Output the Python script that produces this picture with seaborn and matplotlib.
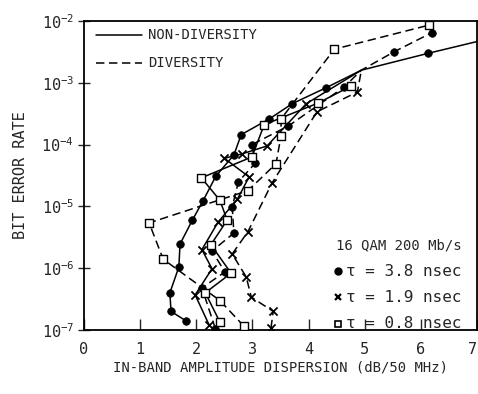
import matplotlib
matplotlib.use("Agg")
import matplotlib.pyplot as plt
import seaborn as sns
import pandas as pd

# Measured signature points: in-band amplitude dispersion (dB/50 MHz) vs. BER
# tau = 3.8 nsec
nd38_x = [1.82, 1.55, 1.53, 1.69, 1.71, 1.93, 2.12, 2.35, 2.67, 2.80, 3.30, 3.71, 4.31, 6.13]
nd38_y = [1.4e-7, 2.0e-7, 4.0e-7, 1.05e-6, 2.45e-6, 6.0e-6, 1.23e-5, 3.1e-5, 6.8e-5,
          1.45e-4, 2.6e-4, 4.6e-4, 8.3e-4, 3.0e-3]
dv38_x = [2.34, 2.10, 2.51, 2.28, 2.67, 2.64, 2.75, 3.05, 2.99, 3.64, 4.63, 5.53, 6.20]
dv38_y = [1.05e-7, 4.8e-7, 8.7e-7, 1.9e-6, 3.7e-6, 9.8e-6, 2.5e-5, 5.0e-5, 1.0e-4,
          2.0e-4, 8.5e-4, 3.2e-3, 6.5e-3]
# tau = 1.9 nsec
nd19_x = [2.23, 1.98, 2.28, 2.10, 2.39, 2.73, 2.94, 2.50, 2.82, 3.26, 3.96]
nd19_y = [1.2e-7, 3.7e-7, 9.8e-7, 2.0e-6, 5.6e-6, 1.3e-5, 3.0e-5, 6.0e-5, 7.1e-5,
          9.5e-5, 4.6e-4]
dv19_x = [3.33, 3.37, 2.98, 2.89, 2.64, 2.92, 3.35, 4.15, 4.87]
dv19_y = [1.07e-7, 2.0e-7, 3.4e-7, 7.2e-7, 1.7e-6, 3.9e-6, 2.4e-5, 3.4e-4, 7.1e-4]
# tau = 0.8 nsec
nd08_x = [2.42, 2.16, 2.62, 2.26, 2.55, 2.42, 2.09, 2.99, 3.21, 4.17, 4.76]
nd08_y = [1.35e-7, 4.0e-7, 8.3e-7, 2.4e-6, 6.0e-6, 1.26e-5, 2.9e-5, 6.3e-5, 2.1e-4,
          4.7e-4, 8.9e-4]
dv08_x = [2.85, 2.42, 1.41, 1.16, 2.92, 3.42, 3.51, 3.51, 4.46, 6.15]
dv08_y = [1.15e-7, 3.0e-7, 1.4e-6, 5.4e-6, 1.8e-5, 4.9e-5, 1.4e-4, 2.6e-4, 3.5e-3, 8.6e-3]

# Common break point where several curves meet, and the run-out of the
# non-diversity 3.8 nsec curve at the right edge
junction_x, junction_y = 4.94, 1.6e-3
runout_x, runout_y = 7.0, 4.65e-3

x_ticks = [0, 1, 2, 3, 4, 5, 6, 7]
y_ticks = [1e-7, 1e-6, 1e-5, 1e-4, 1e-3, 1e-2]
y_tick_labels = ["10$^{-7}$", "10$^{-6}$", "10$^{-5}$", "10$^{-4}$", "10$^{-3}$", "10$^{-2}$"]
legend_labels = ["NON-DIVERSITY", "DIVERSITY"]
key_title = "16 QAM 200 Mb/s"
key_labels = ["τ = 3.8 nsec", "τ = 1.9 nsec", "τ = 0.8 nsec"]


def with_junction(xs, ys):
    """Insert the shared break point before the first point beyond it."""
    idx = next((i for i, v in enumerate(xs) if v > junction_x), len(xs))
    return (xs[:idx] + [junction_x] + xs[idx:], ys[:idx] + [junction_y] + ys[idx:])


sns.set_style("ticks")
plt.rcParams["font.family"] = ["DejaVu Sans Mono", "DejaVu Sans"]
plt.rcParams["mathtext.default"] = "regular"

fig = plt.figure(figsize=(4.78, 3.94), dpi=100)
ax = fig.add_axes([84 / 478, 1 - 330 / 394, (477 - 84) / 478, (330 - 21) / 394])

SOLID = "-"
DASHED = (0, (5.5, 3))

series = [
    (nd38_x, nd38_y, SOLID, "circle", True),
    (dv38_x, dv38_y, DASHED, "circle", True),
    (nd19_x, nd19_y, SOLID, "cross", True),
    (dv19_x, dv19_y, DASHED, "cross", True),
    (nd08_x, nd08_y, SOLID, "square", False),
    (dv08_x, dv08_y, DASHED, "square", False),
]

for i, (xs, ys, ls, kind, joins) in enumerate(series):
    lx, ly = (with_junction(xs, ys) if joins else (xs, ys))
    if i == 0:
        lx, ly = lx + [runout_x], ly + [runout_y]
    df = pd.DataFrame({"x": lx, "y": ly})
    sns.lineplot(data=df, x="x", y="y", ax=ax, sort=False, estimator=None,
                 color="black", linewidth=1.1, linestyle=ls, zorder=2)
    pts = pd.DataFrame({"x": xs, "y": ys})
    if kind == "circle":
        sns.scatterplot(data=pts, x="x", y="y", ax=ax, marker="o", s=30,
                        color="black", edgecolor="black", linewidth=0.5, zorder=3)
    elif kind == "cross":
        sns.scatterplot(data=pts, x="x", y="y", ax=ax, marker="x", s=34,
                        color="black", linewidth=1.3, zorder=3)
    else:
        sns.scatterplot(data=pts, x="x", y="y", ax=ax, marker="s", s=26,
                        facecolor="white", edgecolor="black", linewidth=1.0, zorder=3)

ax.set_yscale("log")
ax.set_xlim(0, 7)
ax.set_ylim(1e-7, 1e-2)
ax.set_xticks(x_ticks)
ax.set_xticklabels([str(t) for t in x_ticks])
ax.get_xticklabels()[-1].set_horizontalalignment("right")
ax.set_yticks(y_ticks)
ax.set_yticklabels(y_tick_labels)
ax.yaxis.set_minor_locator(matplotlib.ticker.NullLocator())
ax.tick_params(axis="x", direction="in", length=8, width=1.0, pad=9, labelsize=11)
ax.tick_params(axis="y", direction="inout", length=8, width=1.0, pad=3, labelsize=11)
for sp in ax.spines.values():
    sp.set_visible(True)
    sp.set_linewidth(1.3)
    sp.set_color("black")

ax.set_xlabel("IN-BAND AMPLITUDE DISPERSION (dB/50 MHz)", fontsize=10, labelpad=2)
ax.set_ylabel("BIT ERROR RATE", fontsize=11, labelpad=10)

# Line-style legend in the upper left
tr = ax.transAxes
def px_to_ax(px, py):
    return ((px - 84) / (477 - 84), (330 - py) / (330 - 21))

for (py, ls, lab) in [(35, SOLID, legend_labels[0]), (63, DASHED, legend_labels[1])]:
    x0, y0 = px_to_ax(96, py)
    x1, _ = px_to_ax(142, py)
    ax.plot([x0, x1], [y0, y0], transform=tr, color="black", lw=1.1, linestyle=ls)
    tx, _ = px_to_ax(148, py)
    ax.text(tx, y0, lab, transform=tr, fontsize=10, va="center", ha="left")

# Marker key in the lower right
kx, ky = px_to_ax(336, 245)
ax.text(kx, ky, key_title, transform=tr, fontsize=10, va="center", ha="left")
key_markers = [("o", dict(color="black")),
               ("x", dict(color="black", markeredgewidth=1.6)),
               ("s", dict(markerfacecolor="white", markeredgecolor="black", markeredgewidth=1.2))]
for (py, (mk, mkw), lab) in zip([271, 297, 324], key_markers, key_labels):
    mx, my = px_to_ax(338, py)
    ax.plot([mx], [my], transform=tr, marker=mk, markersize=5, linestyle="none", **mkw)
    tx, _ = px_to_ax(346, py)
    ax.text(tx, my, lab, transform=tr, fontsize=11.5, va="center", ha="left")

fig.savefig("out.png", dpi=100)
